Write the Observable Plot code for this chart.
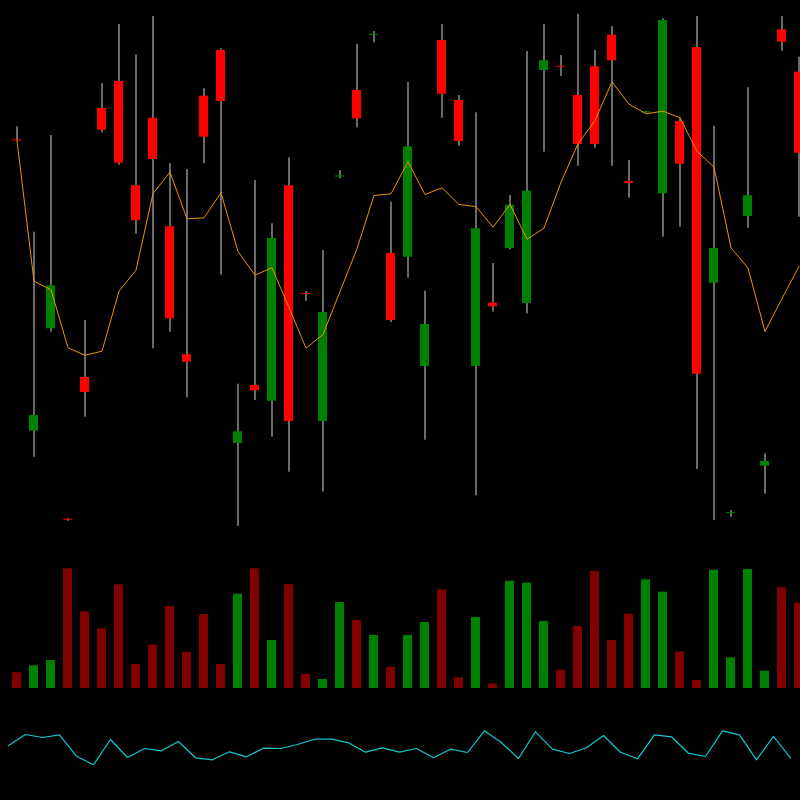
<!DOCTYPE html>
<html><head><meta charset="utf-8">
<script src="https://cdn.jsdelivr.net/npm/d3@7"></script>
<script src="https://cdn.jsdelivr.net/npm/@observablehq/plot@0.6"></script>
<style>html,body{margin:0;padding:0;background:#000;overflow:hidden;} #chart svg{display:block;}</style>
</head><body><div id="chart"></div>
<script>
// OHLC prices (arbitrary units)
const opens  = [40.07,10.93,21.17,2.13,16.3,43.2,45.9,35.47,42.23,31.37,18.57,44.43,49,9.7,15.5,13.93,35.47,24.7,11.9,36.35,45,50.52,28.7,28.33,17.4,50,44,17.4,23.73,29.2,23.7,47,47.42,44.5,47.37,50.53,35.9,42.77,34.67,41.9,49.3,25.73,2.68,32.4,7.43,51.07,46.83];
const highs  = [41.37,30.83,40.5,2.17,22,45.67,51.6,48.57,52.4,37.67,37.1,45.17,49.17,15.63,36,31.67,38.27,24.9,29,37,49.6,50.9,33.83,45.8,24.93,51.6,44.5,42.77,27.7,34.5,48.9,51.6,48.5,52.6,49,51.4,38,42.9,52.17,42.27,52.4,41.4,3,45.27,8.67,52.4,48.33];
const lows   = [39.94,8.33,20.83,1.93,12.33,40.77,37.53,30.63,19.17,20.83,14.27,37.67,26.53,1.4,14,10.33,6.83,23.93,4.87,36.17,41.27,49.77,21.8,26.23,10.03,42.23,39.43,4.47,22.83,29.07,22.67,38.83,46.4,37.43,39.23,37.43,34.23,42.75,30.33,31.33,7.1,2,2.33,31.23,4.63,48.93,32.33];
const closes = [39.97,12.5,25.47,2.03,14.8,41.03,37.73,31.97,38.1,22.17,17.83,40.33,43.9,10.87,14.97,30.2,11.9,24.6,22.8,36.45,42.17,50.62,22,39.37,21.6,44.63,39.9,31.17,23.37,33.53,34.93,47.97,47.32,39.6,39.6,47.97,35.7,42.87,52,37.63,16.63,29.2,2.78,34.47,7.9,49.83,38.73];
// moving average (orange line)
const ma = [40,25.93,25.07,19.27,18.53,18.93,24.93,27.03,34.7,36.83,32.17,32.27,34.77,28.9,26.53,27.27,23.3,19.23,20.6,24.9,29.17,34.5,34.67,37.87,34.6,35.27,33.6,33.4,31.33,33.6,30.13,31.23,35.83,39.67,42,45.87,43.63,42.67,42.93,42.27,38.93,37.33,29.27,27.25,20.9,24.2,27.4];
// volumes
const volumes = [157,227,280,1197,767,597,1037,240,433,820,360,740,240,943,1197,480,1037,140,90,860,680,530,210,530,660,987,107,710,47,1073,1053,670,183,620,1170,480,743,1087,963,367,80,1183,307,1190,173,1007,853];
// oscillator (cyan line)
const osc = [55,66,63,65.7,44.3,35.7,61,43,52,49.7,59,42.7,40.7,48.7,43.7,52.3,52,56,61.3,61.3,57.7,48.3,52.7,48.3,52,42.7,51.3,48,69.7,57.7,42,68.7,51.3,47,52.7,65,48.3,41.7,65.7,63.7,47.3,44,69.7,65.7,40.7,64,42.7];

const idx = d3.range(opens.length);
const candles = idx.map(i => ({i, open: opens[i], high: highs[i], low: lows[i], close: closes[i], ma: ma[i], volume: volumes[i], osc: osc[i]}));
const up = d => d.close >= d.open;

function xScale(range) {
  return {type: "band", domain: idx, range, paddingInner: 8/17, paddingOuter: 4/17, align: 0.5, round: false, axis: null};
}
const common = {width: 800, marginTop: 0, marginRight: 0, marginBottom: 0, marginLeft: 0,
  style: {background: "#000", display: "block", overflow: "hidden"}, color: {type: "identity"}};

const price = Plot.plot({...common, height: 540,
  x: xScale([8, 807]),
  y: {domain: [0, 54], axis: null},
  marks: [
    Plot.ruleX(candles, {x: "i", y1: "low", y2: "high", stroke: "#d4d4d4", strokeWidth: 1}),
    Plot.barY(candles, {x: "i", y1: "open", y2: "close", fill: d => up(d) ? "#008000" : "#ff0000"}),
    Plot.lineY(candles, {x: "i", y: "ma", stroke: "#e89400", strokeWidth: 1})
  ]
});

const vol = Plot.plot({...common, height: 160, marginBottom: 12,
  x: xScale([8, 807]),
  y: {domain: [0, 1480], axis: null},
  marks: [
    Plot.barY(candles, {x: "i", y: "volume", fill: d => up(d) ? "#008000" : "#800000"})
  ]
});

const ind = Plot.plot({...common, height: 100,
  x: xScale([-0.5, 798.5]),
  y: {domain: [0, 100], axis: null},
  marks: [
    Plot.lineY(candles, {x: "i", y: "osc", stroke: "#10c8d0", strokeWidth: 1.2})
  ]
});

const el = document.getElementById("chart");
el.append(price, vol, ind);
</script>
</body></html>
